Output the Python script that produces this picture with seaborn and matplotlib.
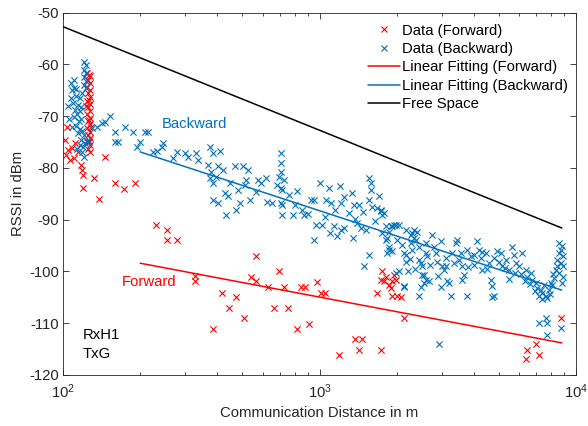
import matplotlib
matplotlib.use("Agg")
import matplotlib.pyplot as plt
import seaborn as sns
import numpy as np
from matplotlib.lines import Line2D
from matplotlib.ticker import LogLocator, NullFormatter, FixedLocator

# ---------------- data ----------------
# Forward measurements (distance in m, RSSI in dBm)
fwd_distance = [
    # dense column near 120 m
    124, 127, 125, 128, 124, 127, 125, 128, 124, 127, 125, 128,
    124, 127, 125, 128, 124, 127, 125, 128, 124, 127, 125, 128,
    126, 126, 126, 126, 123, 129,
    # scattered near start
    103.6, 101.8, 104.6, 102.7, 106.5, 108.4, 111.3, 110.4, 114.4, 117.5, 118.5, 120,
    145.7, 132, 119.6, 138, 159.4, 173, 190.6,
    # mid range
    230, 255, 255, 279, 328, 328, 415, 443, 474, 384, 506, 539, 567, 567, 629, 693,
    662, 724, 752, 816, 848, 878, 913, 975, 1016, 1055, 1196, 1380, 1461, 1422,
    1681, 1790, 1817, 1872, 1988, 1923, 2011, 1738, 1757, 1923, 1958, 1902, 2080,
    2141, 1738,
    # far end
    8714, 6441, 6403, 6964, 7171,
]
fwd_rssi = [
    -61.6, -62.3, -63.0, -63.6, -64.3, -65.0, -65.6, -66.3, -67.0, -67.6, -68.3, -69.0,
    -69.6, -70.3, -71.0, -71.6, -72.3, -73.0, -73.6, -74.3, -75.0, -75.6, -76.3, -77.0,
    -62.0, -66.8, -70.8, -74.8, -68.0, -72.0,
    -72.1, -74.6, -76.5, -77.5, -78.4, -76.1, -75.2, -78.1, -76.9, -79.4, -80.4, -81.3,
    -77.9, -81.9, -83.8, -86.0, -82.9, -84.0, -82.9,
    -91.0, -92.0, -94.0, -94.0, -100.8, -101.9, -104.1, -107.1, -105.0, -111.1, -109.0,
    -101.0, -97.0, -101.9, -103.0, -100.0,
    -107.1, -103.0, -107.1, -111.1, -103.0, -103.0, -110.1, -102.0, -104.1, -104.1,
    -116.1, -113.1, -113.1, -115.1,
    -104.1, -101.9, -101.0, -102.6, -101.6, -104.8, -104.8, -101.6, -100.0, -101.9,
    -100.6, -103.2, -104.9,
    -109.0, -115.1,
    -109.0, -115.1, -117.0, -114.0, -116.1,
]

# Backward measurements (distance in m, RSSI in dBm)
bwd_distance = [
    # column near 120 m
    121, 123, 121, 123, 121, 123, 121, 123,
    107, 108, 110, 107, 109, 112, 111, 113, 110, 114, 116, 115, 112, 117, 118, 114,
    105, 106, 108, 110, 112, 116, 118, 119,
    119, 121, 118, 122, 120, 119, 121, 124, 126, 116, 113,
    # near start
    129.7, 135.6, 141.8, 145.7, 152.4, 159.4, 174.4, 187.3, 208.6, 214.2, 159.4, 163.7,
    194.2, 199.4,
    224, 231.6, 244.9, 242.3, 268, 277.1, 298.4, 306.4, 331.4, 335, 373, 383.2, 408,
    366.4, 379, 373, 383.2, 396.2, 400.8, 419, 383.2, 400.8, 433.4, 426.9, 438, 446,
    466.5, 473.6, 488, 479.4, 501.3, 524.6, 518.5, 534, 510.5, 573.5, 567, 592.9,
    620.3, 627, 655.4, 708.7, 708.7, 708.7, 698, 685.6, 717, 708.7, 717,
    # mid range
    730, 708.7, 717, 784.8, 799.3, 857.6, 873.5, 927.6, 955, 1000, 1093, 969.6, 1027,
    955, 1062, 1110.5, 1143, 1174, 1215, 1251, 1215, 1308, 1343, 1368, 1431, 1406,
    1454, 1520, 1565, 1590, 1590, 1565, 1607, 1681, 1738, 1757, 1817, 1872, 1923,
    1988, 1839, 1872, 1923, 1565, 1497, 1988, 2174, 2275, 2342, 2378, 2300, 2449,
    2174, 2205, 2449, 2515, 2515, 2601, 2141, 2449, 2601,
    760, 820, 900, 1050, 1150, 1250, 1380, 1480, 1640, 1700, 1200, 1350, 1100,
    # far range
    1738, 1790, 1757, 1817, 1872, 1839, 1902, 1958, 2047, 2011, 2047, 2102, 2141,
    2174, 2275, 2300, 2342, 2405, 2488, 2562, 2601, 2630, 2678, 2750, 2801, 2844,
    2877, 2976, 3008, 3064, 3111, 3146, 3203, 3254, 3290, 3402, 3441, 3559, 3503,
    3598, 3664, 3762, 3762, 3892, 4007, 4114, 4190, 4257, 4303, 4450, 4583, 4707,
    4656, 4794, 4923, 5092, 5147, 5323, 5482, 5630, 5734, 5822, 5995, 6157, 6367,
    6441, 6662, 6734, 6964, 7044, 7286, 7365, 7616, 7704, 7501, 7843, 7968, 8204,
    8329, 8425, 8577, 8714, 8577, 8809, 8714, 8055,
    7616, 7171, 7704, 7704, 8714, 2929, 2488, 2976, 4707, 2141,
    8900, 8900, 8900, 8800, 8600, 8400, 8100, 7900, 7400, 7200, 6900, 6600, 6300,
    6100, 5800, 5500, 5300, 5000, 4800, 4500, 4300, 4000, 3800, 3600, 3350, 3100,
    2900, 2700, 2550, 2350, 2250,
]
bwd_rssi = [
    -59.5, -60.2, -61.0, -61.7, -62.4, -63.1, -63.9, -64.6,
    -63.6, -65.0, -64.5, -66.5, -67.5, -66.0, -68.8, -69.5, -70.2, -67.8, -69.0, -71.0,
    -71.8, -72.5, -70.5, -73.2,
    -68.0, -70.5, -72.0, -63.0, -64.8, -66.5, -68.2, -65.6,
    -72.8, -73.6, -74.5, -75.2, -76.0, -77.0, -77.8, -74.8, -75.0, -75.5, -76.3,
    -72.3, -72.1, -71.3, -71.1, -69.9, -73.0, -72.1, -73.0, -73.0, -73.0, -75.0, -75.0,
    -75.9, -75.0,
    -77.0, -76.8, -75.2, -75.9, -78.1, -77.0, -77.1, -77.9, -77.1, -78.4, -75.9, -77.1,
    -76.8, -79.4, -80.7, -82.0, -82.9, -81.7, -79.7, -80.4, -86.2, -86.7, -89.1, -84.8,
    -85.5, -82.9, -79.7, -88.1, -86.7, -84.2, -79.7, -80.4, -82.3, -86.2, -83.3, -82.3,
    -84.6, -82.9, -82.0, -86.5, -86.8, -77.1, -79.1, -80.7, -81.7, -83.3, -84.2, -86.8,
    -89.1,
    -82.3, -83.8, -87.1, -89.1, -87.1, -88.1, -89.1, -86.2, -86.2, -82.9, -83.9, -91.0,
    -91.0, -93.9, -86.2, -86.8, -91.3, -93.2, -92.0, -91.6, -86.8, -88.7, -84.9, -87.1,
    -87.1, -90.7, -91.6, -92.0, -82.0, -82.9, -84.2, -86.2, -87.5, -87.8, -88.1, -89.1,
    -91.3, -92.3, -91.3, -91.0, -93.6, -95.2, -96.1, -96.8, -99.0, -100.3, -92.0, -92.9,
    -92.0, -93.9, -95.8, -95.2, -96.8, -100.0, -97.7, -99.0, -100.6, -101.6, -102.9,
    -104.8, -96.5,
    -85.3, -84.5, -88.8, -89.5, -88.2, -85.6, -89.8, -88.5, -90.2, -85.5, -83.5, -93.5,
    -92.5,
    -88.4, -88.7, -92.6, -93.9, -95.8, -96.5, -91.3, -91.0, -91.0, -93.9, -100.0, -94.9,
    -96.5, -98.1, -94.5, -92.6, -93.6, -92.3, -98.4, -100.6, -94.5, -97.1, -101.9, -92.9,
    -95.2, -96.5, -98.1, -94.2, -99.0, -99.7, -99.0, -101.9, -102.2, -104.8, -96.5,
    -94.5, -93.9, -96.5, -97.7, -99.0, -100.6, -104.8, -95.8, -97.1, -98.7, -94.2, -95.8,
    -97.4, -99.7, -96.5, -98.4, -102.9, -101.6, -104.8, -96.1, -96.5, -99.0, -97.7,
    -99.7, -95.2, -96.8, -98.4, -99.0, -96.5, -99.7, -101.0, -100.3, -101.6, -102.2,
    -103.2, -103.5, -104.2, -104.8, -105.1, -102.6, -103.5, -102.2, -101.3, -99.7,
    -97.7, -96.5, -98.4, -100.3, -102.2, -95.8, -102.6,
    -109.0, -109.9, -109.9, -112.2, -110.9, -114.0, -103.0, -103.0, -104.9, -103.0,
    -97.0, -99.0, -101.0, -95.0, -94.5, -99.0, -100.5, -104.3, -105.3, -104.8, -103.8,
    -102.5, -101.8, -100.4, -100.3, -101.5, -99.3, -98.2, -97.3, -99.6, -96.3, -96.8,
    -99.2, -101.7, -98.3, -97.4, -100.8, -98.8, -102.3, -99.5, -97.5,
]

# Fitted lines and free-space reference
fit_distance = [200, 8800]
fit_fwd_rssi = [-98.4, -113.8]
fit_bwd_rssi = [-76.9, -103.6]
free_distance = [100, 8800]
free_rssi = [-52.7, -91.6]

x_ticks = [100, 1000, 10000]
y_ticks = [-120, -110, -100, -90, -80, -70, -60, -50]

legend_labels = ["Data (Forward)", "Data (Backward)", "Linear Fitting (Forward)",
                 "Linear Fitting (Backward)", "Free Space"]

# ---------------- style ----------------
sns.set_style("ticks")
plt.rcParams["font.family"] = ["Liberation Sans", "DejaVu Sans"]
plt.rcParams["mathtext.fontset"] = "custom"
plt.rcParams["mathtext.rm"] = "Liberation Sans"
plt.rcParams["mathtext.it"] = "Liberation Sans:italic"
plt.rcParams["axes.unicode_minus"] = False

RED = "#FF0000"
BLUE = "#0072BD"
DARK = "#262626"
FS = 10.7

fig = plt.figure(figsize=(5.88, 4.26), dpi=100)
ax = fig.add_axes([63 / 588, 1 - 375 / 426, (576 - 63) / 588, (375 - 12.7) / 426])
ax.set_xscale("log")

sns.scatterplot(x=fwd_distance, y=fwd_rssi, marker="x", color=RED, s=20,
                linewidth=0.8, ax=ax, legend=False, zorder=2)
sns.scatterplot(x=bwd_distance, y=bwd_rssi, marker="x", color=BLUE, s=20,
                linewidth=0.8, ax=ax, legend=False, zorder=2)
sns.lineplot(x=fit_distance, y=fit_fwd_rssi, color=RED, linewidth=1.1, ax=ax,
             legend=False, zorder=3)
sns.lineplot(x=fit_distance, y=fit_bwd_rssi, color=BLUE, linewidth=1.1, ax=ax,
             legend=False, zorder=3)
sns.lineplot(x=free_distance, y=free_rssi, color="black", linewidth=1.1, ax=ax,
             legend=False, zorder=3)

ax.set_xlim(100, 10000)
ax.set_ylim(-120, -50)
ax.set_yticks(y_ticks)
ax.xaxis.set_major_locator(FixedLocator(x_ticks))
ax.xaxis.set_minor_locator(LogLocator(base=10, subs=np.arange(2, 10), numticks=10))
ax.xaxis.set_minor_formatter(NullFormatter())
ax.set_xticklabels([r"$10^{%d}$" % int(np.log10(v)) for v in x_ticks])

ax.tick_params(which="both", direction="in", top=True, right=True, color=DARK,
               labelcolor=DARK, labelsize=FS, width=0.6)
ax.tick_params(which="major", length=4)
ax.tick_params(which="minor", length=2.2)
ax.tick_params(axis="x", pad=5)
ax.tick_params(axis="y", pad=3)
for sp in ax.spines.values():
    sp.set_color(DARK)
    sp.set_linewidth(0.6)
ax.grid(False)

ax.set_xlabel("Communication Distance in m", fontsize=FS, color=DARK)
ax.set_ylabel("RSSI in dBm", fontsize=FS, color=DARK)
ax.yaxis.set_label_coords(-0.075, 0.5)
ax.xaxis.set_label_coords(0.5, -0.085)

ax.text(242.7, -71.5, "Backward", color=BLUE, fontsize=FS, ha="left", va="center")
ax.text(169.7, -102.1, "Forward", color=RED, fontsize=FS, ha="left", va="center")
ax.text(119.6, -112.2, "RxH1", color="black", fontsize=FS, ha="left", va="center")
ax.text(119.6, -115.9, "TxG", color="black", fontsize=FS, ha="left", va="center")

handles = [
    Line2D([], [], ls="none", marker="x", color=RED, ms=4, mew=0.8),
    Line2D([], [], ls="none", marker="x", color=BLUE, ms=4, mew=0.8),
    Line2D([], [], color=RED, lw=1.1),
    Line2D([], [], color=BLUE, lw=1.1),
    Line2D([], [], color="black", lw=1.1),
]
leg = ax.legend(handles, legend_labels, loc="upper left",
                bbox_to_anchor=(368 / 588, 1 - 23.5 / 426), bbox_transform=fig.transFigure,
                frameon=False, fontsize=FS, handlelength=2.15, handletextpad=0.15,
                labelspacing=0.3, borderpad=0, borderaxespad=0, numpoints=1)
for t in leg.get_texts():
    t.set_color("black")

fig.savefig("out.png", dpi=100)
